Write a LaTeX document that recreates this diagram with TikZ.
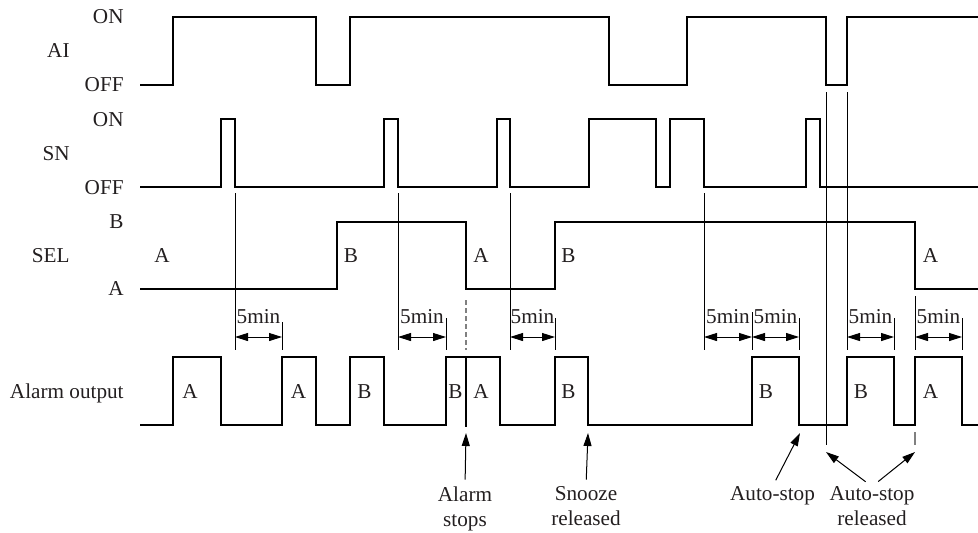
\documentclass[tikz,border=0pt]{standalone}
\usepackage{fontspec}
\setmainfont{Liberation Serif}
\usetikzlibrary{arrows.meta}
\definecolor{ink}{RGB}{35,31,32}

\tikzset{
  sig/.style={black,line width=0.9pt},
  guide/.style={black,line width=0.5pt},
  dimline/.style={black,line width=0.5pt,{Triangle[length=6.5pt,width=4pt]}-{Triangle[length=6.5pt,width=4pt]}},
  pointer/.style={black,line width=0.5pt,-{Triangle[length=6.5pt,width=4pt]}},
  lvl/.style={anchor=base east,inner sep=0pt},
  tag/.style={anchor=base west,inner sep=0pt},
  dimtext/.style={anchor=base,inner sep=0pt},
  note/.style={align=center,anchor=north,inner sep=0pt},
}

\begin{document}
\begin{tikzpicture}[x=0.5pt,y=-0.5pt,font=\fontsize{10.6}{12.5}\selectfont,text=ink]

          \useasboundingbox (0,0) rectangle (978,532);

          % row names and levels
          \node[lvl] (ai) at (70,57.5) {AI};
          \node[lvl] (aion) at (124,23.5) {ON};
          \node[lvl] (aioff) at (124,91.7) {OFF};

          \node[lvl] (sn) at (70,160.7) {SN};
          \node[lvl] (snon) at (124,126) {ON};
          \node[lvl] (snoff) at (124,194) {OFF};

          \node[lvl] (sel) at (70,262.3) {SEL};
          \node[lvl] (selb) at (124,228) {B};
          \node[lvl] (sela) at (124,295.7) {A};

          \node[lvl] (alarm) at (124,398.3) {Alarm output};

          % guide lines
          \draw[guide] (235,193) -- (235,350);
          \draw[guide] (398,193) -- (398,350);
          \draw[guide] (510,193) -- (510,350);
          \draw[guide] (704,193) -- (704,350);
          \draw[guide] (826,92) -- (826,445);
          \draw[guide] (847,92) -- (847,350);
          \draw[guide] (915,296) -- (915,350);

          \draw[guide] (282,322) -- (282,350);
          \draw[guide] (446,318) -- (446,350);
          \draw[guide] (555,318) -- (555,350);
          \draw[guide] (752,312) -- (752,350);
          \draw[guide] (799,318) -- (799,350);
          \draw[guide] (894,318) -- (894,350);
          \draw[guide] (962,318) -- (962,350);

          \draw[gray,line width=0.6pt,dash pattern=on 2.5pt off 1.5pt] (466,300) -- (466,350);
          \draw[gray,line width=0.6pt] (915,432) -- (915,445);

          % 5min spans
          \draw[dimline] (235,337) -- (282,337);
          \node[dimtext] (t1) at (258.5,323.3) {5min};
          \draw[dimline] (398,337) -- (446,337);
          \node[dimtext] (t2) at (422,323.3) {5min};
          \draw[dimline] (510,337) -- (555,337);
          \node[dimtext] (t3) at (532.5,323.3) {5min};
          \draw[dimline] (704,337) -- (752,337);
          \node[dimtext] (t4) at (728,323.3) {5min};
          \draw[dimline] (752,337) -- (799,337);
          \node[dimtext] (t5) at (775.5,323.3) {5min};
          \draw[dimline] (847,337) -- (894,337);
          \node[dimtext] (t6) at (870.5,323.3) {5min};
          \draw[dimline] (915,337) -- (962,337);
          \node[dimtext] (t7) at (938.5,323.3) {5min};

          % AI
          \draw[sig] (140,85) -- (173,85) -- (173,17) -- (316,17) -- (316,85) -- (350,85) -- (350,17)
            -- (609,17) -- (609,85) -- (687,85) -- (687,17) -- (826,17) -- (826,85) -- (847,85)
            -- (847,17) -- (978,17);

          % SN
          \draw[sig] (140,187) -- (221,187) -- (221,119) -- (235,119) -- (235,187) -- (384,187)
            -- (384,119) -- (398,119) -- (398,187) -- (497,187) -- (497,119) -- (510,119)
            -- (510,187) -- (589,187) -- (589,119) -- (656,119) -- (656,187) -- (670,187)
            -- (670,119) -- (704,119) -- (704,187) -- (806,187) -- (806,119) -- (820,119)
            -- (820,187) -- (978,187);

          % SEL
          \draw[sig] (140,289) -- (337,289) -- (337,222) -- (466,222) -- (466,289) -- (555,289)
            -- (555,222) -- (915,222) -- (915,289) -- (978,289);
          \node[tag] (s1) at (154,262.3) {A};
          \node[tag] (s2) at (343.5,262.3) {B};
          \node[tag] (s3) at (473,262.3) {A};
          \node[tag] (s4) at (561,262.3) {B};
          \node[tag] (s5) at (922.5,262.3) {A};

          % Alarm output
          \draw[sig] (140,425) -- (173,425) -- (173,357) -- (221,357) -- (221,425) -- (282,425)
            -- (282,357) -- (316,357) -- (316,425) -- (350,425) -- (350,357) -- (384,357)
            -- (384,425) -- (446,425) -- (446,357) -- (500,357) -- (500,425) -- (555,425)
            -- (555,357) -- (588,357) -- (588,425) -- (752,425) -- (752,357) -- (799,357)
            -- (799,425) -- (847,425) -- (847,357) -- (894,357) -- (894,425) -- (915,425)
            -- (915,357) -- (962,357) -- (962,425) -- (978,425);
          \draw[sig] (466,357) -- (466,427);
          \node[tag] (a1) at (182,398.3) {A};
          \node[tag] (a2) at (290.5,398.3) {A};
          \node[tag] (a3) at (357,398.3) {B};
          \node[tag] (a4) at (448,398.3) {B};
          \node[tag] (a5) at (473,398.3) {A};
          \node[tag] (a6) at (561,398.3) {B};
          \node[tag] (a7) at (758.5,398.3) {B};
          \node[tag] (a8) at (853.5,398.3) {B};
          \node[tag] (a9) at (922.5,398.3) {A};

          % notes
          \node[note] (stops) at (465,486.5) {Alarm\\stops};
          \node[note] (snooze) at (586,486.5) {Snooze\\released};
          \node[note] (auto) at (772.5,486.5) {Auto-stop};
          \node[note] (autorel) at (872,486.5) {Auto-stop\\released};

          \coordinate (stopsTip) at (466,433);
          \coordinate (snoozeTip) at (588,433);
          \coordinate (autoTip) at (800,433);
          \coordinate (relTipL) at (826,452);
          \coordinate (relTipR) at (915,452);

          \draw[pointer,shorten <=3.5pt] (stops.north) -- (stopsTip);
          \draw[pointer,shorten <=3.5pt] (snooze.north) -- (snoozeTip);
          \draw[pointer,shorten <=3.5pt] (auto.north) -- (autoTip);
          \draw[pointer,shorten <=4pt] (autorel.north) -- (relTipL);
          \draw[pointer,shorten <=4pt] (autorel.north) -- (relTipR);

\end{tikzpicture}
\end{document}
